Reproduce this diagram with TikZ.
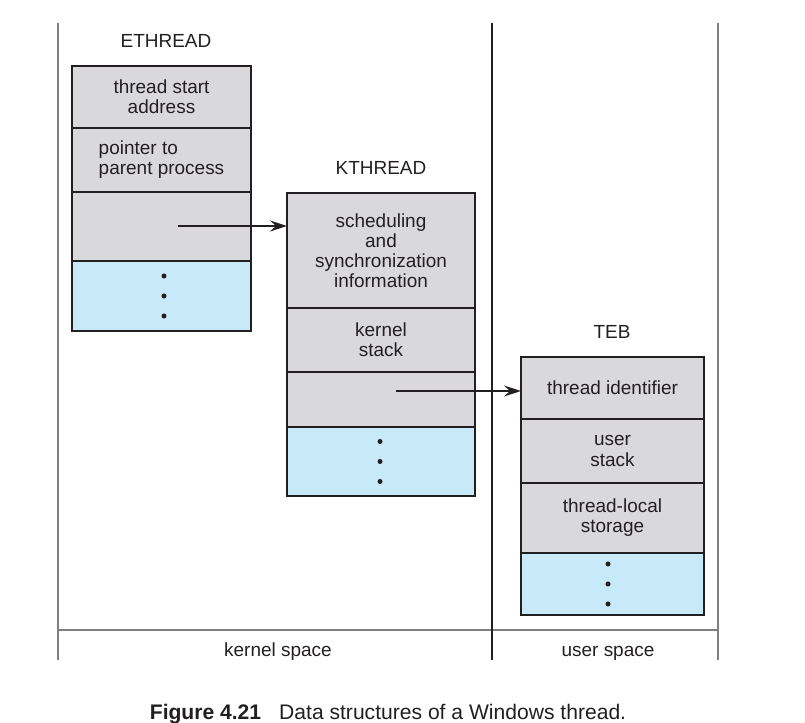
\documentclass[tikz,border=0pt]{standalone}
\usepackage{fontspec}
\setmainfont{Liberation Sans}
\usetikzlibrary{arrows.meta,positioning,calc}
\definecolor{cellgray}{RGB}{217,217,219}
\definecolor{cellblue}{RGB}{199,233,248}
\definecolor{rulegray}{RGB}{128,128,128}
\definecolor{inkdark}{RGB}{35,31,32}

\begin{document}
\begin{tikzpicture}[>={Stealth[length=3.4mm,width=2.2mm,inset=1.2mm]},
 every node/.style={font=\fontsize{10.8}{11.4}\selectfont,text=inkdark},
 cell/.style={draw=inkdark,line width=.6pt,fill=cellgray,inner sep=0pt,outer sep=0pt,align=center},
 more/.style={cell,fill=cellblue}]
\useasboundingbox (0,0) rectangle (16.1,14.46);
% kernel / user space frame
\draw[rulegray,line width=1pt] (1.16,14)--(1.16,1.26) (14.36,14)--(14.36,1.26) (1.16,1.86)--(14.36,1.86);
\draw[inkdark,line width=.7pt] (9.84,14)--(9.84,1.26);
\node (kspace) at (5.56,1.42) {kernel space};
\node (uspace) at (12.16,1.40) {user space};
% ETHREAD
\node (ethread) at (3.32,13.64) {ETHREAD};
\node[cell,minimum width=3.58cm,minimum height=1.24cm] (e1) at (3.23,12.52) {thread start\\address};
\node[cell,minimum width=3.58cm,minimum height=1.28cm,align=left,below=0pt of e1] (e2) {pointer to\\parent process};
\node[cell,minimum width=3.58cm,minimum height=1.38cm,below=0pt of e2] (e3) {};
\node[more,minimum width=3.58cm,minimum height=1.40cm,below=0pt of e3] (e4) {};
% KTHREAD
\node (kthread) at (7.62,11.10) {KTHREAD};
\node[cell,minimum width=3.76cm,minimum height=2.30cm] (k1) at (7.62,9.45) {scheduling\\and\\synchronization\\information};
\node[cell,minimum width=3.76cm,minimum height=1.28cm,below=0pt of k1] (k2) {kernel\\stack};
\node[cell,minimum width=3.76cm,minimum height=1.10cm,below=0pt of k2] (k3) {};
\node[more,minimum width=3.76cm,minimum height=1.38cm,below=0pt of k3] (k4) {};
% TEB
\node (teb) at (12.24,7.82) {TEB};
\node[cell,minimum width=3.66cm,minimum height=1.24cm] (t1) at (12.25,6.70) {thread identifier};
\node[cell,minimum width=3.66cm,minimum height=1.28cm,below=0pt of t1] (t2) {user\\stack};
\node[cell,minimum width=3.66cm,minimum height=1.40cm,below=0pt of t2] (t3) {thread-local\\storage};
\node[more,minimum width=3.66cm,minimum height=1.24cm,below=0pt of t3] (t4) {};
% elided fields
\foreach \c/\dx in {e4/.05,k4/-.02,t4/-.09}
 \foreach \dy in {-.4,0,.4}
  \fill[inkdark] ($(\c.center)+(\dx,\dy)$) circle(.05);
% pointers
\coordinate (p1) at (3.56,9.94);
\coordinate (p2) at (7.92,6.64);
\draw[->,inkdark,line width=.9pt] (p1)--(p1-|k1.west);
\draw[->,inkdark,line width=.9pt] (p2)--(p2-|t1.west);
\node[font=\fontsize{12}{14}\selectfont] (caption) at (7.76,.18) {\textbf{Figure 4.21}\hspace{.36cm}Data structures of a Windows thread.};
\end{tikzpicture}
\end{document}
